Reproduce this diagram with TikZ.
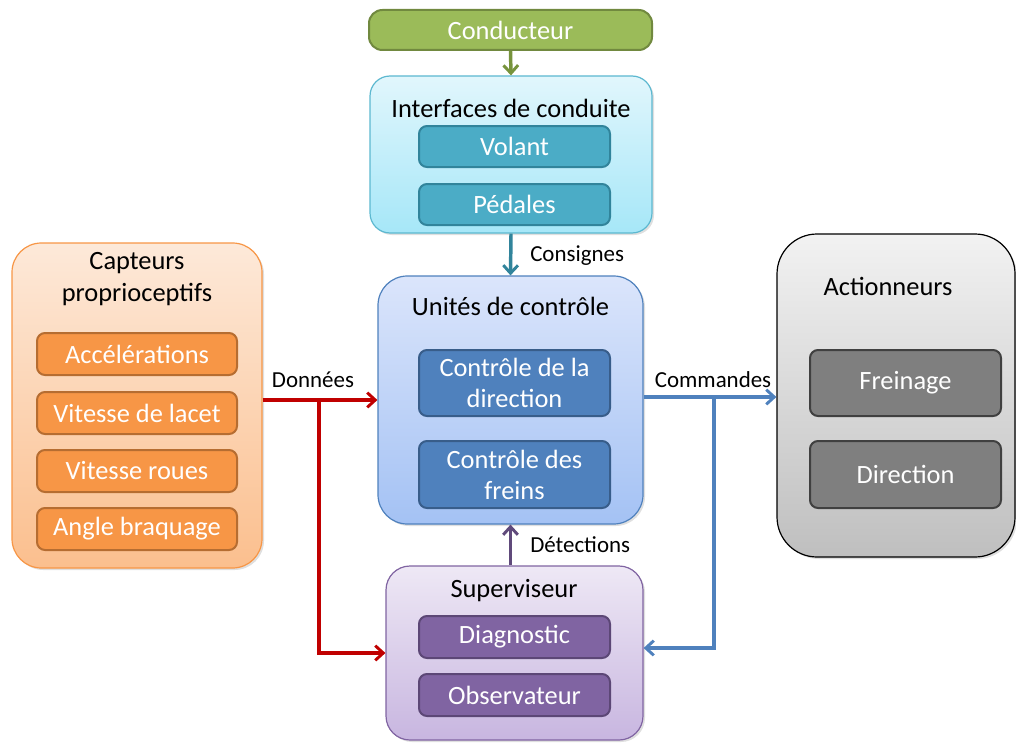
\documentclass[tikz,border=0pt]{standalone}
\usepackage{fontspec}
\setmainfont{Carlito}
\usetikzlibrary{arrows.meta,shadows}
\definecolor{gfill}{HTML}{9BBB59}\definecolor{gline}{HTML}{71893F}\definecolor{garrow}{HTML}{77933C}
\definecolor{ctop}{HTML}{E1F6FC}\definecolor{cbot}{HTML}{A6E7F8}\definecolor{cline}{HTML}{5CB8D0}
\definecolor{cfill}{HTML}{4BACC6}\definecolor{cdark}{HTML}{31849B}
\definecolor{btop}{HTML}{DBE5FB}\definecolor{bbot}{HTML}{A4C2F4}\definecolor{bline}{HTML}{4F81BD}
\definecolor{bfill}{HTML}{4F81BD}\definecolor{bdark}{HTML}{385D8A}
\definecolor{otop}{HTML}{FDE9D9}\definecolor{obot}{HTML}{FBBF8E}\definecolor{oline}{HTML}{F79646}
\definecolor{ofill}{HTML}{F79646}\definecolor{odark}{HTML}{B66D31}
\definecolor{ktop}{HTML}{F2F2F2}\definecolor{kbot}{HTML}{BFBFBF}
\definecolor{kfill}{HTML}{7F7F7F}\definecolor{kdark}{HTML}{404040}
\definecolor{ptop}{HTML}{EEE8F5}\definecolor{pbot}{HTML}{C8B6E0}\definecolor{pline}{HTML}{8064A2}
\definecolor{pfill}{HTML}{8064A2}\definecolor{pdark}{HTML}{5C4776}\definecolor{parrow}{HTML}{604A7B}
\definecolor{redarrow}{HTML}{C00000}
\begin{document}
\begin{tikzpicture}[x=0.75pt,y=-0.75pt,
  outer/.style={draw, line width=0.9pt, inner sep=0pt, drop shadow={opacity=0.25,shadow xshift=1.5pt,shadow yshift=-1.5pt}},
  inner/.style={draw, line width=1.5pt, rounded corners=6pt, inner sep=0pt, text=white, font=\fontsize{19.8}{23.3}\selectfont, align=center},
  title/.style={font=\fontsize{19.8}{24}\selectfont, align=center, inner sep=0pt},
  lbl/.style={font=\fontsize{17.2}{20}\selectfont, inner sep=0pt},
  conn/.style={line width=2.6pt, -{Straight Barb[length=6pt,width=11pt,line width=2.2pt]}},
  ]
\useasboundingbox (0,0) rectangle (1016,742);
% Conducteur
\node[draw=gline, line width=1.5pt, fill=gfill, rounded corners=10pt, minimum width=283*0.75pt, minimum height=40*0.75pt, text=white, font=\fontsize{19.8}{23}\selectfont] (cond) at (510.5,30) {Conducteur};
% Interfaces
\node[outer, draw=cline, top color=ctop, bottom color=cbot, rounded corners=15pt, minimum width=282*0.75pt, minimum height=157*0.75pt] (intf) at (511,154.5) {};
\node[title] (intft) at (511,108) {Interfaces de conduite};
\node[inner, draw=cdark, fill=cfill, minimum width=191*0.75pt, minimum height=41*0.75pt] (volant) at (514.5,146.5) {Volant};
\node[inner, draw=cdark, fill=cfill, minimum width=191*0.75pt, minimum height=41*0.75pt] (pedales) at (514.5,204.5) {Pédales};
% Unites
\node[outer, draw=bline, top color=btop, bottom color=bbot, rounded corners=22pt, minimum width=265*0.75pt, minimum height=248*0.75pt] (unit) at (510.5,400) {};
\node[title] (unitt) at (510.5,306) {Unités de contrôle};
\node[inner, draw=bdark, fill=bfill, minimum width=191*0.75pt, minimum height=66*0.75pt] (cdir) at (514.5,383) {Contrôle de la\\direction};
\node[inner, draw=bdark, fill=bfill, minimum width=191*0.75pt, minimum height=67*0.75pt] (cfrein) at (514.5,474.5) {Contrôle des\\freins};
% Capteurs
\node[outer, draw=oline, top color=otop, bottom color=obot, rounded corners=22pt, minimum width=250*0.75pt, minimum height=325*0.75pt] (capt) at (137,405.5) {};
\node[title] (captt) at (137,279.5) {Capteurs\\proprioceptifs};
\node[inner, draw=odark, fill=ofill, minimum width=200*0.75pt, minimum height=42*0.75pt] (acc) at (137,354) {Accélérations};
\node[inner, draw=odark, fill=ofill, minimum width=200*0.75pt, minimum height=42*0.75pt] (lacet) at (137,413) {Vitesse de lacet};
\node[inner, draw=odark, fill=ofill, minimum width=200*0.75pt, minimum height=42*0.75pt] (roues) at (137,471) {Vitesse roues};
\node[inner, draw=odark, fill=ofill, minimum width=200*0.75pt, minimum height=42*0.75pt] (angle) at (137,529) {Angle braquage};
% Actionneurs
\node[outer, draw=black, top color=ktop, bottom color=kbot, rounded corners=30pt, minimum width=238*0.75pt, minimum height=323*0.75pt] (act) at (896,395.5) {};
\node[title] (actt) at (888,286) {Actionneurs};
\node[inner, draw=kdark, fill=kfill, minimum width=191*0.75pt, minimum height=66*0.75pt] (frein) at (905.5,383) {Freinage};
\node[inner, draw=kdark, fill=kfill, minimum width=191*0.75pt, minimum height=67*0.75pt] (dirn) at (905.5,474.5) {Direction};
% Superviseur
\node[outer, draw=pline, top color=ptop, bottom color=pbot, rounded corners=18pt, minimum width=257*0.75pt, minimum height=174*0.75pt] (sup) at (514.5,653) {};
\node[title] (supt) at (514,591) {Superviseur};
\node[inner, draw=pdark, fill=pfill, minimum width=191*0.75pt, minimum height=42*0.75pt] (diag) at (514.5,637) {Diagnostic};
\node[inner, draw=pdark, fill=pfill, minimum width=191*0.75pt, minimum height=42*0.75pt] (obs) at (514.5,695) {Observateur};
% connectors
\draw[conn, garrow] (cond.south) -- (intf.north);
\draw[conn, cdark] (intf.south) -- (unit.north);
\node[lbl, anchor=west] (lcons) at (530,256) {Consignes};
\draw[conn, parrow] (unit.south |- sup.north) -- (unit.south);
\node[lbl, anchor=west] (ldet) at (530,545) {Détections};
\coordinate (dj) at (319,400);
\draw[conn, redarrow] (capt.east |- unit.west) -- (unit.west);
\draw[conn, redarrow] (dj) |- (sup.west);
\node[lbl] (ldon) at (313,380) {Données};
\coordinate (cj) at (714,397);
\draw[conn, bline] (unit.east |- cj) -- (act.west |- cj);
\draw[conn, bline] (cj) |- ([yshift=3.75pt]sup.east);
\node[lbl] (lcom) at (713,380) {Commandes};
\end{tikzpicture}
\end{document}
